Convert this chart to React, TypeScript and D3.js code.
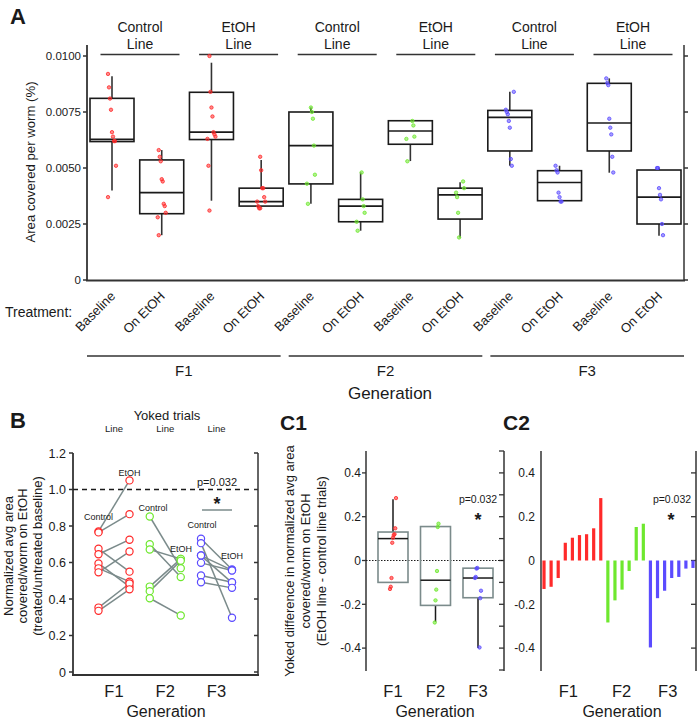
import React from "react";
import * as d3 from "d3";

// ---------- shared categories ----------
const generations = ["F1", "F2", "F3"];
const lineNames = ["Control", "EtOH"];
const treatments = ["Baseline", "On EtOH"];
const genColors = ["#ff2a2a", "#6ee82e", "#5b4bff"];

// ---------- Panel A: 12 boxes (generation x line x treatment) ----------
const boxGen = [0, 0, 0, 0, 1, 1, 1, 1, 2, 2, 2, 2];
const boxLine = [0, 0, 1, 1, 0, 0, 1, 1, 0, 0, 1, 1];
const boxTreat = [0, 1, 0, 1, 0, 1, 0, 1, 0, 1, 0, 1];
const aWhiskerLow = [0.00399, 0.002, 0.00354, 0.0033, 0.0034, 0.0022, 0.00531, 0.0019, 0.0051, 0.00354, 0.00479, 0.00198];
const aQ1 = [0.00618, 0.00296, 0.00627, 0.0033, 0.00429, 0.0026, 0.00606, 0.00272, 0.00576, 0.00354, 0.00576, 0.0025];
const aMedian = [0.00628, 0.0039, 0.0066, 0.0035, 0.006, 0.0033, 0.00665, 0.0038, 0.00726, 0.00435, 0.00701, 0.0037];
const aQ3 = [0.00811, 0.00536, 0.00838, 0.0041, 0.0075, 0.0036, 0.00711, 0.0041, 0.00757, 0.00488, 0.00878, 0.00491];
const aWhiskerHigh = [0.0091, 0.0058, 0.0097, 0.00536, 0.0077, 0.0048, 0.00711, 0.00436, 0.0084, 0.0051, 0.009, 0.005];
const aPoints = [
  [0.0092, 0.0086, 0.0081, 0.0076, 0.0066, 0.0064, 0.0062, 0.0062, 0.0051, 0.0037],
  [0.0058, 0.0055, 0.0053, 0.0045, 0.0044, 0.0034, 0.0033, 0.003, 0.0028, 0.002],
  [0.01, 0.0084, 0.0077, 0.0073, 0.0066, 0.0065, 0.0064, 0.0063, 0.0051, 0.0031],
  [0.0055, 0.0049, 0.0041, 0.0041, 0.0037, 0.0035, 0.0035, 0.0033, 0.0032, 0.0032],
  [0.0077, 0.0075, 0.0072, 0.006, 0.0047, 0.0043, 0.0034],
  [0.0048, 0.0036, 0.0033, 0.003, 0.0026, 0.0022],
  [0.0071, 0.0069, 0.0064, 0.0063, 0.0053],
  [0.0044, 0.0041, 0.0039, 0.0037, 0.003, 0.0019],
  [0.0084, 0.0076, 0.0075, 0.0074, 0.0071, 0.0068, 0.0054, 0.0051],
  [0.0051, 0.0049, 0.0048, 0.0039, 0.0037, 0.0035, 0.0035],
  [0.009, 0.0088, 0.0087, 0.0072, 0.0068, 0.0065, 0.0055, 0.0048],
  [0.005, 0.005, 0.0041, 0.0038, 0.0036, 0.0025, 0.002],
];
const aTicks = [0, 0.0025, 0.005, 0.0075, 0.01];

// ---------- Panel B: yoked trials (control line vs EtOH line) ----------
const bControl = [
  [0.77, 0.765, 0.675, 0.645, 0.595, 0.568, 0.546, 0.353, 0.335],
  [0.852, 0.7, 0.671, 0.468, 0.443, 0.404],
  [0.73, 0.706, 0.638, 0.638, 0.598, 0.529, 0.492],
];
const bEtoh = [
  [1.05, 0.865, 0.55, 0.725, 0.468, 0.495, 0.66, 0.485, 0.453],
  [0.569, 0.52, 0.62, 0.62, 0.61, 0.31],
  [0.562, 0.297, 0.558, 0.49, 0.556, 0.492, 0.461],
];
const bTicks = [0, 0.2, 0.4, 0.6, 0.8, 1.0, 1.2];

// ---------- Panel C: yoked differences ----------
const cDiffs = [
  [-0.13, -0.12, -0.08, 0.081, 0.104, 0.116, 0.12, 0.147, 0.285],
  [-0.283, -0.182, -0.133, -0.048, 0.153, 0.168],
  [-0.397, -0.172, -0.138, -0.08, -0.075, -0.037, -0.034],
];
const cWhiskerLow = [-0.1, -0.28, -0.4];
const cQ1 = [-0.1, -0.205, -0.17];
const cMedian = [0.1, -0.09, -0.08];
const cQ3 = [0.13, 0.155, -0.035];
const cWhiskerHigh = [0.28, 0.155, -0.035];
const cTicks = [-0.4, -0.2, 0, 0.2, 0.4];
const cMinorTicks = [-0.5, -0.4, -0.3, -0.2, -0.1, 0, 0.1, 0.2, 0.3, 0.4, 0.5];
const pLabel = "p=0.032";

const FONT = "'Liberation Sans', Arial, Helvetica, sans-serif";
const INK = "#1a1a1a";
const AX = "#333";
const GRAY = "#7b8b8b";

function jitter(i: number, amp: number) {
  return ((((i * 37) % 9) - 4) / 4) * amp;
}

export default function App() {
  // ===== Panel A scales =====
  const yA = d3.scaleLinear().domain([0, 0.01]).range([280, 56]);
  const boxKeys = d3.range(aQ1.length);
  const xA = d3.scalePoint<number>().domain(boxKeys).range([112, 659]);
  const headerKeys = boxKeys.filter((i) => boxTreat[i] === 0);
  const xHead = d3.scalePoint<number>().domain(headerKeys).range([140, 633]);
  const xGenA = d3.scaleBand<string>().domain(generations).range([87, 684]).paddingInner(0.04);
  const boxW = 44;
  const fmtA = (v: number) => (v === 0 ? "0" : d3.format(".4f")(v));

  // ===== Panel B scales =====
  const yB = d3.scaleLinear().domain([0, 1.2]).range([672, 453]);
  const xB = d3.scalePoint<string>().domain(generations).range([114, 216.5]);
  const bOff = 15.5;
  const fmtB = (v: number) => (v === 0 ? "0" : d3.format(".1f")(v));

  // ===== Panel C scales =====
  const yC = d3.scaleLinear().domain([-0.5, 0.5]).range([670, 451]);
  const xC1 = d3.scalePoint<string>().domain(generations).range([393, 478]);
  const fmtC = (v: number) => (v === 0 ? "0" : d3.format(".1f")(v).replace("−", "-"));
  const barKeys: { g: number; v: number; k: string }[] = [];
  cDiffs.forEach((arr, g) => arr.forEach((v, j) => barKeys.push({ g, v, k: `${g}-${j}` })));
  const xC2 = d3.scaleBand<string>().domain(barKeys.map((b) => b.k)).range([541, 696]).paddingInner(0.55).paddingOuter(0.2);
  const genCenterC2 = (g: number) => {
    const ks = barKeys.filter((b) => b.g === g);
    const a = xC2(ks[0].k)!;
    const b = xC2(ks[ks.length - 1].k)! + xC2.bandwidth();
    return (a + b) / 2;
  };

  const fY = 697; // generation tick label baseline (B, C1, C2)
  const gY = 717; // "Generation" baseline (B, C1, C2)

  return (
    <svg width={700} height={721} style={{ position: "absolute", left: 0, top: 0, background: "#fff" }} fontFamily={FONT}>
      <rect x={0} y={0} width={700} height={721} fill="#fff" />

      {/* ================= PANEL A ================= */}
      <text x={10} y={24} fontSize={22} fontWeight="bold" fill={INK}>A</text>

      {/* headers */}
      {headerKeys.map((i) => (
        <g key={`h${i}`}>
          <text x={xHead(i)!} y={32} fontSize={14} textAnchor="middle" fill={INK}>{lineNames[boxLine[i]]}</text>
          <text x={xHead(i)!} y={49} fontSize={14} textAnchor="middle" fill={INK}>Line</text>
          <line x1={xHead(i)! - 39.5} x2={xHead(i)! + 39.5} y1={54.5} y2={54.5} stroke={AX} strokeWidth={1.5} />
        </g>
      ))}

      {/* axes */}
      <line x1={87} x2={87} y1={45} y2={281} stroke={AX} strokeWidth={1.8} />
      <line x1={684} x2={684} y1={45} y2={281} stroke={AX} strokeWidth={1.5} />
      <line x1={86} x2={685} y1={280.5} y2={280.5} stroke={AX} strokeWidth={2} />
      {aTicks.map((t) => (
        <g key={`at${t}`}>
          <line x1={83} x2={87} y1={yA(t)} y2={yA(t)} stroke={AX} strokeWidth={1.5} />
          <line x1={684} x2={688} y1={yA(t)} y2={yA(t)} stroke={AX} strokeWidth={1.5} />
          <text x={81} y={yA(t) + 4.2} fontSize={11.5} textAnchor="end" fill={INK}>{fmtA(t)}</text>
        </g>
      ))}
      <text transform={`translate(35,162) rotate(-90)`} fontSize={13.2} textAnchor="middle" fill={INK}>
        Area covered per worm (%)
      </text>

      {/* boxes */}
      {boxKeys.map((i) => {
        const cx = xA(i)!;
        const col = genColors[boxGen[i]];
        return (
          <g key={`b${i}`}>
            <line x1={cx} x2={cx} y1={yA(aWhiskerHigh[i])} y2={yA(aQ3[i])} stroke={AX} strokeWidth={1.6} />
            <line x1={cx} x2={cx} y1={yA(aQ1[i])} y2={yA(aWhiskerLow[i])} stroke={AX} strokeWidth={1.6} />
            <rect x={cx - boxW / 2} y={yA(aQ3[i])} width={boxW} height={yA(aQ1[i]) - yA(aQ3[i])} fill="none" stroke={INK} strokeWidth={1.6} />
            <line x1={cx - boxW / 2} x2={cx + boxW / 2} y1={yA(aMedian[i])} y2={yA(aMedian[i])} stroke={INK} strokeWidth={1.6} />
            {aPoints[i].map((v, j) => (
              <circle key={j} cx={cx + jitter(j + i, 4)} cy={yA(v)} r={1.7} fill={col} fillOpacity={0.55} stroke={col} strokeWidth={0.8} />
            ))}
          </g>
        );
      })}

      {/* treatment labels */}
      <text x={5} y={317} fontSize={14} fill={INK}>Treatment:</text>
      {boxKeys.map((i) => (
        <text key={`tl${i}`} transform={`translate(${xA(i)! + 4},297) rotate(-45)`} fontSize={13} textAnchor="end" fill={INK}>
          {treatments[boxTreat[i]]}
        </text>
      ))}

      {/* generation brackets */}
      {generations.map((g) => (
        <g key={`ga${g}`}>
          <line x1={xGenA(g)!} x2={xGenA(g)! + xGenA.bandwidth()} y1={356} y2={356} stroke={AX} strokeWidth={1.5} />
          <text x={xGenA(g)! + xGenA.bandwidth() / 2} y={375.5} fontSize={15} textAnchor="middle" fill={INK}>{g}</text>
        </g>
      ))}
      <text x={390} y={399} fontSize={17} textAnchor="middle" fill={INK}>Generation</text>

      {/* ================= PANEL B ================= */}
      <text x={10} y={428} fontSize={22} fontWeight="bold" fill={INK}>B</text>
      <text x={167} y={420} fontSize={13} textAnchor="middle" fill={INK}>Yoked trials</text>
      {generations.map((g) => (
        <text key={`bl${g}`} x={xB(g)!} y={432} fontSize={9.5} textAnchor="middle" fill={INK}>Line</text>
      ))}
      {/* axes */}
      <line x1={73} x2={73} y1={453} y2={676} stroke={AX} strokeWidth={1.8} />
      <line x1={258} x2={258} y1={453} y2={676} stroke={AX} strokeWidth={1.5} />
      <line x1={72} x2={259} y1={675} y2={675} stroke={AX} strokeWidth={1.8} />
      {bTicks.map((t) => (
        <g key={`bt${t}`}>
          <line x1={69} x2={73} y1={yB(t)} y2={yB(t)} stroke={AX} strokeWidth={1.5} />
          <line x1={254} x2={258} y1={yB(t)} y2={yB(t)} stroke={AX} strokeWidth={1.5} />
          <text x={66} y={yB(t) + 4.5} fontSize={12.5} textAnchor="end" fill={INK}>{fmtB(t)}</text>
        </g>
      ))}
      {["Normalized avg area", "covered/worm on EtOH", "(treated/untreated baseline)"].map((s, k) => (
        <text key={`byl${k}`} transform={`translate(${12.5 + k * 14.5},556) rotate(-90)`} fontSize={13} textAnchor="middle" fill={INK}>{s}</text>
      ))}
      <line x1={73} x2={250} y1={yB(1)} y2={yB(1)} stroke={INK} strokeWidth={1.4} strokeDasharray="5,4" />
      {/* pairs */}
      {generations.map((g, gi) => (
        <g key={`bp${g}`}>
          {bControl[gi].map((c, j) => (
            <line key={`ln${j}`} x1={xB(g)! - bOff} x2={xB(g)! + bOff} y1={yB(c)} y2={yB(bEtoh[gi][j])} stroke={GRAY} strokeWidth={1.5} />
          ))}
          {bControl[gi].map((c, j) => (
            <circle key={`cc${j}`} cx={xB(g)! - bOff} cy={yB(c)} r={3.6} fill="#fff" stroke={genColors[gi]} strokeWidth={1.2} />
          ))}
          {bEtoh[gi].map((e, j) => (
            <circle key={`ce${j}`} cx={xB(g)! + bOff} cy={yB(e)} r={3.6} fill="#fff" stroke={genColors[gi]} strokeWidth={1.2} />
          ))}
        </g>
      ))}
      <text x={129.5} y={476} fontSize={9} textAnchor="middle" fill={INK}>EtOH</text>
      <text x={98.5} y={520} fontSize={9} textAnchor="middle" fill={INK}>Control</text>
      <text x={153} y={511} fontSize={9} textAnchor="middle" fill={INK}>Control</text>
      <text x={181} y={552} fontSize={9} textAnchor="middle" fill={INK}>EtOH</text>
      <text x={202} y={528} fontSize={9} textAnchor="middle" fill={INK}>Control</text>
      <text x={232} y={559} fontSize={9} textAnchor="middle" fill={INK}>EtOH</text>
      <text x={217} y={486} fontSize={11} textAnchor="middle" fill={INK}>{pLabel}</text>
      <text x={217} y={510} fontSize={18} fontWeight="bold" textAnchor="middle" fill={INK}>*</text>
      <line x1={202} x2={232} y1={510} y2={510} stroke={GRAY} strokeWidth={1.5} />
      {generations.map((g) => (
        <text key={`bx${g}`} x={xB(g)!} y={fY} fontSize={16.5} textAnchor="middle" fill={INK}>{g}</text>
      ))}
      <text x={166} y={gY} fontSize={16} textAnchor="middle" fill={INK}>Generation</text>

      {/* ================= PANEL C1 ================= */}
      <text x={280} y={430} fontSize={21} fontWeight="bold" fill={INK}>C1</text>
      <line x1={366} x2={366} y1={451} y2={671} stroke={AX} strokeWidth={1.5} />
      <line x1={504} x2={504} y1={451} y2={671} stroke={AX} strokeWidth={1.5} />
      {cTicks.map((t) => (
        <g key={`c1t${t}`}>
          <line x1={362} x2={366} y1={yC(t)} y2={yC(t)} stroke={AX} strokeWidth={1.3} />
          <text x={361} y={yC(t) + 4.2} fontSize={12} textAnchor="end" fill={INK}>{fmtC(t)}</text>
        </g>
      ))}
      {cMinorTicks.map((t) => (
        <line key={`c1m${t}`} x1={499} x2={504} y1={yC(t)} y2={yC(t)} stroke={AX} strokeWidth={1.3} />
      ))}
      {["Yoked difference in normalized avg area", "covered/worm on EtOH", "(EtOH line - control line trials)"].map((s, k) => (
        <text key={`cyl${k}`} transform={`translate(${293.5 + k * 16},561) rotate(-90)`} fontSize={13} textAnchor="middle" fill={INK}>{s}</text>
      ))}
      <line x1={366} x2={504} y1={yC(0)} y2={yC(0)} stroke={INK} strokeWidth={1} strokeDasharray="1.5,1.5" />
      {generations.map((g, gi) => {
        const cx = xC1(g)!;
        const w = 30;
        return (
          <g key={`c1b${g}`}>
            <line x1={cx} x2={cx} y1={yC(cWhiskerHigh[gi])} y2={yC(cQ3[gi])} stroke={INK} strokeWidth={1.5} />
            <line x1={cx} x2={cx} y1={yC(cQ1[gi])} y2={yC(cWhiskerLow[gi])} stroke={INK} strokeWidth={1.5} />
            <rect x={cx - w / 2} y={yC(cQ3[gi])} width={w} height={yC(cQ1[gi]) - yC(cQ3[gi])} fill="none" stroke={GRAY} strokeWidth={1.6} />
            <line x1={cx - w / 2} x2={cx + w / 2} y1={yC(cMedian[gi])} y2={yC(cMedian[gi])} stroke={INK} strokeWidth={1.5} />
            {cDiffs[gi].map((v, j) => (
              <circle key={j} cx={cx + jitter(j + gi * 3, 3)} cy={yC(v)} r={1.7} fill={genColors[gi]} fillOpacity={0.6} stroke={genColors[gi]} strokeWidth={0.8} />
            ))}
            <text x={cx} y={fY} fontSize={16.5} textAnchor="middle" fill={INK}>{g}</text>
          </g>
        );
      })}
      <text x={478} y={503} fontSize={10.5} textAnchor="middle" fill={INK}>{pLabel}</text>
      <text x={478} y={526} fontSize={18} fontWeight="bold" textAnchor="middle" fill={INK}>*</text>
      <text x={435} y={gY} fontSize={16} textAnchor="middle" fill={INK}>Generation</text>

      {/* ================= PANEL C2 ================= */}
      <text x={503} y={430} fontSize={21} fontWeight="bold" fill={INK}>C2</text>
      <line x1={541} x2={541} y1={451} y2={671} stroke={AX} strokeWidth={1.5} />
      <line x1={696} x2={696} y1={451} y2={671} stroke={AX} strokeWidth={1.5} />
      {cTicks.map((t) => (
        <g key={`c2t${t}`}>
          <line x1={691} x2={696} y1={yC(t)} y2={yC(t)} stroke={AX} strokeWidth={1.3} />
          <text x={535} y={yC(t) + 4.2} fontSize={12} textAnchor="end" fill={INK}>{fmtC(t)}</text>
        </g>
      ))}
      {barKeys.map((b) => (
        <rect key={`bar${b.k}`} x={xC2(b.k)!} width={xC2.bandwidth()} y={Math.min(yC(0), yC(b.v))} height={Math.abs(yC(b.v) - yC(0))} fill={genColors[b.g]} />
      ))}
      {generations.map((g, gi) => (
        <text key={`c2x${g}`} x={genCenterC2(gi) - 4} y={fY} fontSize={16.5} textAnchor="middle" fill={INK}>{g}</text>
      ))}
      <text x={672} y={503} fontSize={10.5} textAnchor="middle" fill={INK}>{pLabel}</text>
      <text x={671} y={526} fontSize={18} fontWeight="bold" textAnchor="middle" fill={INK}>*</text>
      <text x={622} y={gY} fontSize={16} textAnchor="middle" fill={INK}>Generation</text>
    </svg>
  );
}
